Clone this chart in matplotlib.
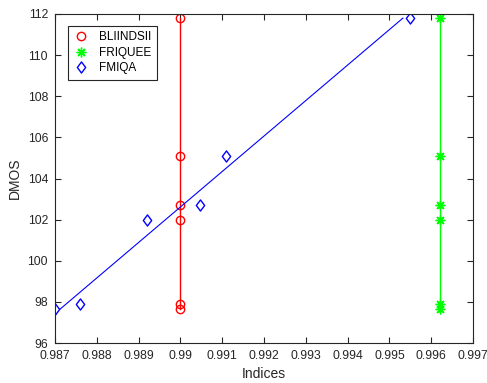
import numpy as np
import matplotlib
matplotlib.use('Agg')
import matplotlib.pyplot as plt
from matplotlib.path import Path

plt.rcParams['font.family'] = ['Liberation Sans', 'DejaVu Sans']

# DMOS values (shared by all three indices)
dmos = [97.64, 97.9, 102.0, 102.73, 105.1, 111.8]
bliindsii = [0.99, 0.99, 0.99, 0.99, 0.99, 0.99]
friquee = [0.9962, 0.9962, 0.9962, 0.9962, 0.9962, 0.9962]
fmiqa = [0.98699, 0.98761, 0.98920, 0.99048, 0.99109, 0.99549]

xticks = [0.987, 0.988, 0.989, 0.99, 0.991, 0.992, 0.993, 0.994, 0.995, 0.996, 0.997]
xticklabels = ['0.987', '0.988', '0.989', '0.99', '0.991', '0.992', '0.993', '0.994', '0.995', '0.996', '0.997']
yticks = [96, 98, 100, 102, 104, 106, 108, 110, 112]

# MATLAB-like diamond (a bit wider than matplotlib's thin diamond)
diamond = Path([(0, 1), (0.75, 0), (0, -1), (-0.75, 0), (0, 1)], closed=True)

fig = plt.figure(figsize=(4.87, 3.83), dpi=100)
ax = fig.add_axes([55/487, 1 - 343/383, (473 - 55)/487, (343 - 14)/383])

ax.plot(bliindsii, dmos, 'o', color='red', mfc='none', ms=6, mew=1, label='BLIINDSII')
ax.plot(friquee, dmos, marker=(8, 2, 0), ls='none', color='#00ff00', ms=7, mew=1, label='FRIQUEE')
ax.plot(fmiqa, dmos, marker=diamond, ls='none', color='blue', mfc='none', ms=8, mew=1, label='FMIQA')

# vertical lines for the constant indices
ax.plot([bliindsii[0], bliindsii[0]], [min(dmos), max(dmos)], color='red', lw=1)
ax.plot([friquee[0], friquee[0]], [min(dmos), max(dmos)], color='#00ff00', lw=1)

# linear fit for FMIQA (index as function of DMOS)
p = np.polyfit(dmos, fmiqa, 1)
yf = np.array([min(dmos), max(dmos)])
ax.plot(np.polyval(p, yf), yf, color='blue', lw=0.8)

ax.set_xlim(0.987, 0.997)
ax.set_ylim(96, 112)
ax.set_xticks(xticks)
ax.set_xticklabels(xticklabels)
ax.set_yticks(yticks)
ax.tick_params(direction='in', length=4, width=0.8, top=True, right=True,
               labelsize=8.8, colors='#262626', pad=5)
for s in ax.spines.values():
    s.set_linewidth(0.8)
    s.set_color('#262626')

ax.set_xlabel('Indices', fontsize=10, color='#262626', labelpad=4)
ax.set_ylabel('DMOS', fontsize=10, color='#262626', labelpad=4)

leg = ax.legend(loc='upper left', bbox_to_anchor=(0.031, 0.964), fontsize=8.5,
                fancybox=False, edgecolor='#262626', framealpha=1,
                handlelength=1.3, handletextpad=0.9, borderpad=0.45,
                labelspacing=0.3, borderaxespad=0)
leg.get_frame().set_linewidth(0.8)

fig.savefig('out.png', dpi=100)
